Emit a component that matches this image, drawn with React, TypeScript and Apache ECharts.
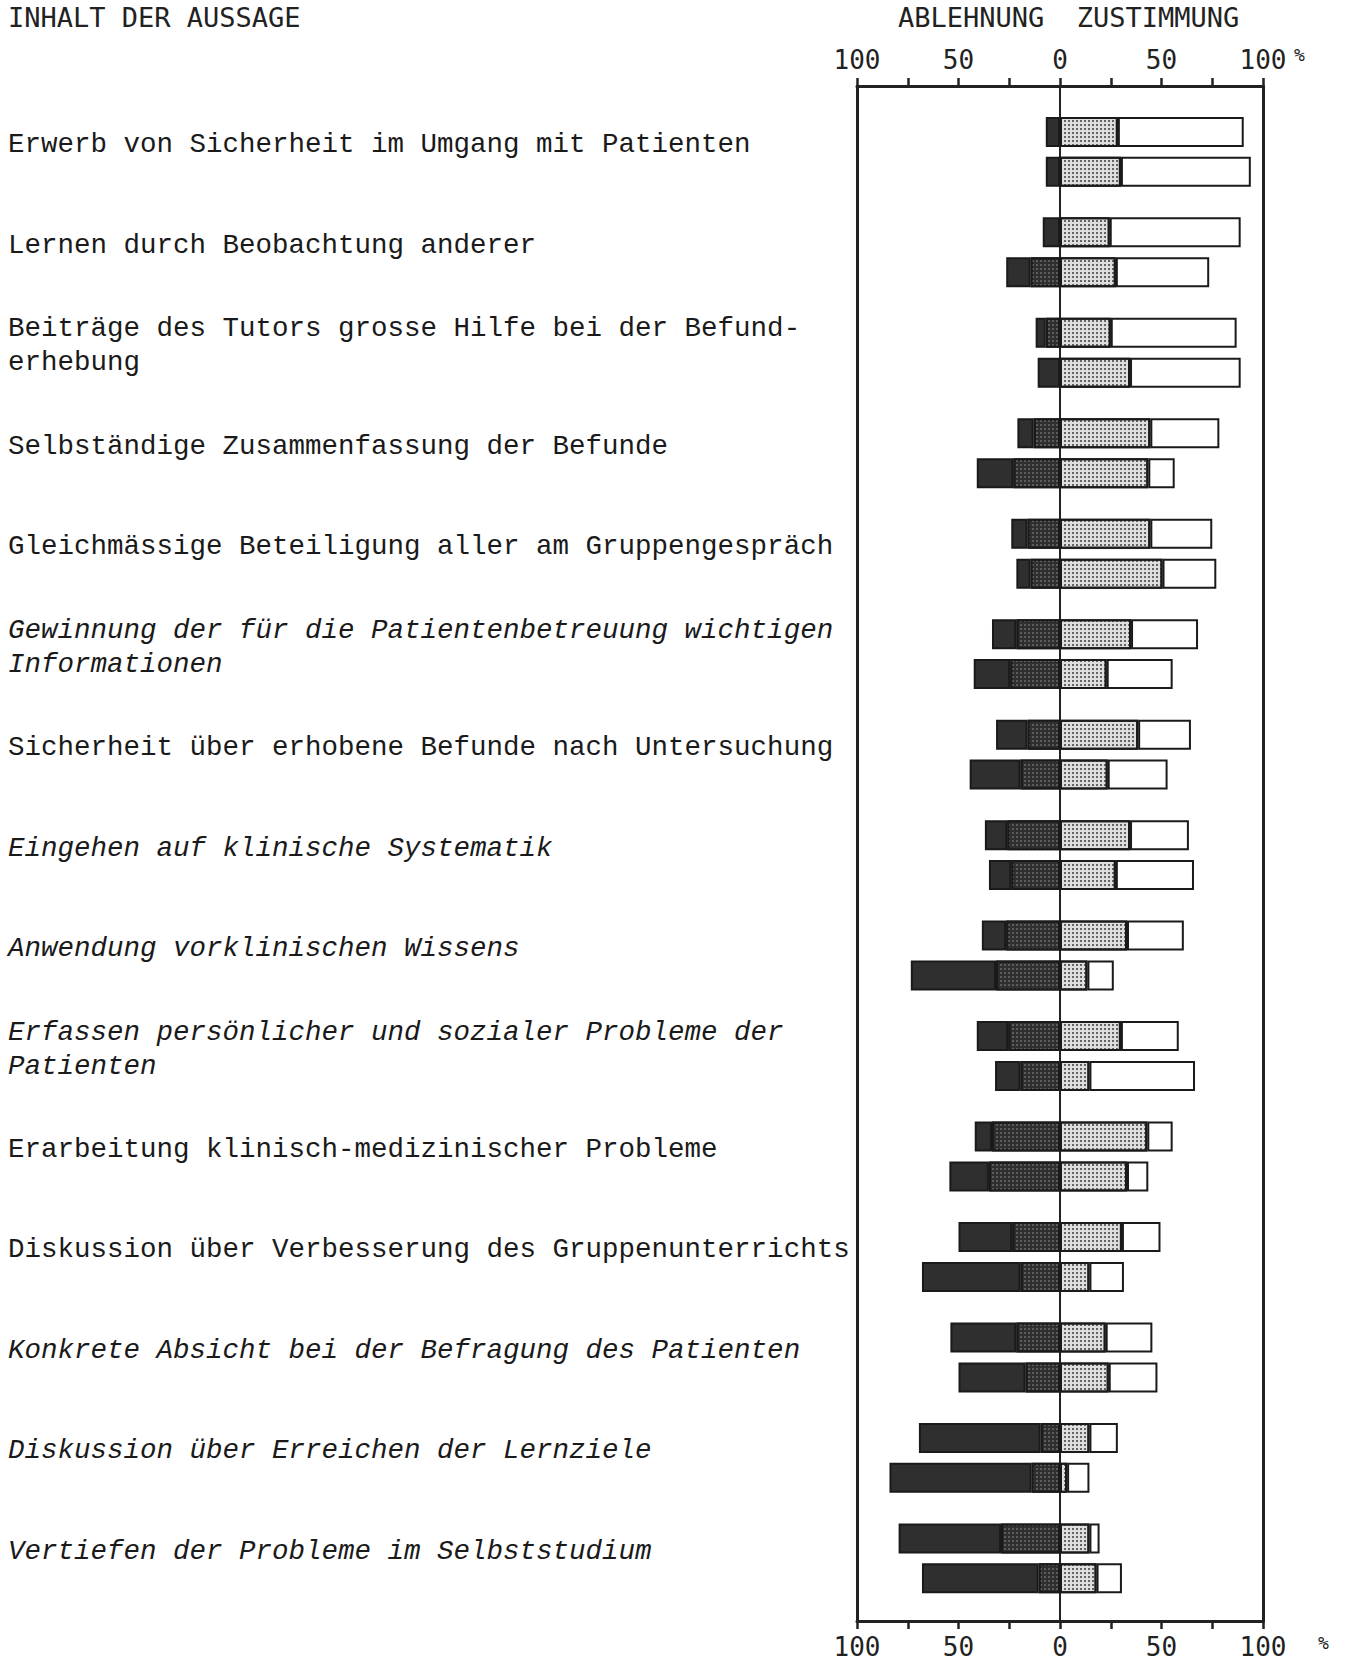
import React, { useEffect, useRef } from "react";
import * as echarts from "echarts";

// Statements (categories), top to bottom
const categories: string[] = [
  "Erwerb von Sicherheit im Umgang mit Patienten",
  "Lernen durch Beobachtung anderer",
  "Beiträge des Tutors grosse Hilfe bei der Befund-\nerhebung",
  "Selbständige Zusammenfassung der Befunde",
  "Gleichmässige Beteiligung aller am Gruppengespräch",
  "Gewinnung der für die Patientenbetreuung wichtigen\nInformationen",
  "Sicherheit über erhobene Befunde nach Untersuchung",
  "Eingehen auf klinische Systematik",
  "Anwendung vorklinischen Wissens",
  "Erfassen persönlicher und sozialer Probleme der\nPatienten",
  "Erarbeitung klinisch-medizinischer Probleme",
  "Diskussion über Verbesserung des Gruppenunterrichts",
  "Konkrete Absicht bei der Befragung des Patienten",
  "Diskussion über Erreichen der Lernziele",
  "Vertiefen der Probleme im Selbststudium",
];
const italicLabels: boolean[] = [false, false, false, false, false, true, false, true, true, true, false, false, true, true, true];

// Upper bar of each pair (%)
const strongRejectA = [7, 8.5, 5, 8, 8, 12, 15.5, 11, 12, 15.5, 8.5, 26.5, 32.5, 60, 50.5];
const mildRejectA = [0, 0, 7, 13, 16, 21.5, 16, 26, 26.5, 25.5, 33.5, 23.5, 21.5, 9.5, 29];
const mildAgreeA = [28.5, 24.5, 25, 44.5, 44.5, 35, 38.5, 34.5, 33, 30, 43, 30.5, 22.5, 14.5, 14.5];
const strongAgreeA = [62, 64.5, 62, 34, 30.5, 33, 26, 29, 28, 28.5, 12.5, 19, 23, 14, 5];

// Lower bar of each pair (%)
const strongRejectB = [7, 12, 11, 18, 7, 18, 25, 11, 42, 12.5, 19.5, 48.5, 33, 70, 57.5];
const mildRejectB = [0, 14.5, 0, 23, 14.5, 24.5, 19.5, 24, 31.5, 19.5, 35, 19.5, 17, 14, 10.5];
const mildAgreeB = [30, 27.5, 34.5, 43.5, 50.5, 23, 23.5, 27.5, 13.5, 14.5, 33, 14.5, 24, 3.5, 18];
const strongAgreeB = [64, 46, 54.5, 13, 26.5, 32.5, 29.5, 38.5, 13, 52, 10.5, 17, 24, 11, 12.5];

const axisMin = -100;
const axisMax = 100;
const axisInterval = 25;

const INK = "#222222";
const DARK = "#2f2f2f";

const darkDotted = {
  color: DARK,
  decal: {
    symbol: "circle",
    symbolSize: 0.7,
    color: "rgba(255,255,255,0.55)",
    dashArrayX: [2, 2],
    dashArrayY: [2, 2],
    rotation: 0,
  },
};
const lightDotted = {
  color: "#dedede",
  decal: {
    symbol: "circle",
    symbolSize: 0.85,
    color: "#2a2a2a",
    dashArrayX: [2, 2],
    dashArrayY: [2, 2],
    rotation: 0,
  },
};

function barSeries(name: string, stack: string, values: number[], negative: boolean, style: any) {
  return {
    name,
    type: "bar",
    stack,
    xAxisIndex: 2,
    yAxisIndex: 2,
    barWidth: 30,
    barGap: "33%",
    z: 3,
    data: values.map((v) => (negative ? -v : v)),
    itemStyle: { borderColor: "#1a1a1a", borderWidth: 2, ...style },
    emphasis: { disabled: true },
  };
}

export default function App() {
  const ref = useRef<HTMLDivElement>(null);

  useEffect(() => {
    if (!ref.current) return;
    const chart = echarts.init(ref.current, null, { renderer: "svg" });

    const tickFormatter = (v: number) => (v % 50 === 0 ? String(Math.abs(v)) : "");
    const frameX = (position: string) => ({
      gridIndex: 0,
      type: "value",
      position,
      min: axisMin,
      max: axisMax,
      interval: axisInterval,
      axisLine: { show: true, onZero: false, lineStyle: { color: INK, width: 3 } },
      axisTick: { show: true, length: 8, lineStyle: { color: INK, width: 2.5 } },
      axisLabel: {
        show: true,
        formatter: tickFormatter,
        margin: 13,
        fontSize: 26,
        fontFamily: "DejaVu Sans Mono",
        color: INK,
        showMinLabel: true,
        showMaxLabel: true,
      },
      splitLine: { show: false },
    });
    const frameY = (position: string) => ({
      gridIndex: 0,
      type: "value",
      position,
      min: 0,
      max: 1,
      axisLine: { show: true, onZero: false, lineStyle: { color: INK, width: 3 } },
      axisTick: { show: false },
      axisLabel: { show: false },
      splitLine: { show: false },
    });

    const option: any = {
      animation: false,
      backgroundColor: "#ffffff",
      textStyle: { fontFamily: "Liberation Mono" },
      grid: [
        { left: 857, top: 86, width: 406, height: 1535, outerBoundsMode: "none" },
        { left: 857, top: 101.6, width: 406, height: 1507, outerBoundsMode: "none" },
      ],
      xAxis: [
        frameX("top"),
        frameX("bottom"),
        { gridIndex: 1, type: "value", min: axisMin, max: axisMax, show: false },
      ],
      yAxis: [
        frameY("left"),
        frameY("right"),
        {
          gridIndex: 1,
          type: "category",
          inverse: true,
          data: categories,
          show: false,
        },
      ],
      series: [
        {
          name: "zero",
          type: "line",
          xAxisIndex: 0,
          yAxisIndex: 0,
          data: [
            [0, 0],
            [0, 1],
          ],
          symbol: "none",
          silent: true,
          z: 1,
          lineStyle: { color: INK, width: 2 },
        },
        barSeries("eher Ablehnung A", "a", mildRejectA, true, darkDotted),
        barSeries("starke Ablehnung A", "a", strongRejectA, true, { color: DARK, decal: "none" }),
        barSeries("Zustimmung A", "a", mildAgreeA, false, lightDotted),
        barSeries("starke Zustimmung A", "a", strongAgreeA, false, { color: "#ffffff", decal: "none" }),
        barSeries("eher Ablehnung B", "b", mildRejectB, true, darkDotted),
        barSeries("starke Ablehnung B", "b", strongRejectB, true, { color: DARK, decal: "none" }),
        barSeries("Zustimmung B", "b", mildAgreeB, false, lightDotted),
        barSeries("starke Zustimmung B", "b", strongAgreeB, false, { color: "#ffffff", decal: "none" }),
      ],
    };

    chart.setOption(option);

    // Statement labels, placed at the category positions given by the y axis scale
    const labelGraphics = categories.map((c, i) => {
      const yPix = chart.convertToPixel({ yAxisIndex: 2 } as any, i) as number;
      return {
        type: "text",
        x: 8,
        y: yPix - 7,
        silent: true,
        style: {
          text: c,
          fontSize: 27.5,
          fontFamily: "Liberation Mono",
          fontStyle: italicLabels[i] ? "italic" : "normal",
          fill: "#1a1a1a",
          lineHeight: 34,
          textVerticalAlign: "middle",
          verticalAlign: "middle",
          align: "left",
        },
      };
    });

    chart.setOption({
      graphic: [
        {
          type: "text",
          left: 8,
          top: 4,
          style: { text: "INHALT DER AUSSAGE", fontSize: 27, fontFamily: "DejaVu Sans Mono", fill: INK },
        },
        {
          type: "text",
          left: 898,
          top: 4,
          style: { text: "ABLEHNUNG  ZUSTIMMUNG", fontSize: 27, fontFamily: "DejaVu Sans Mono", fill: INK },
        },
        {
          type: "text",
          left: 1294,
          top: 45,
          style: { text: "%", fontSize: 18, fontFamily: "DejaVu Sans Mono", fill: INK },
        },
        {
          type: "text",
          left: 1318,
          top: 1633,
          style: { text: "%", fontSize: 18, fontFamily: "DejaVu Sans Mono", fill: INK },
        },
        ...labelGraphics,
      ],
    });

    return () => chart.dispose();
  }, []);

  return (
    <div
      ref={ref}
      style={{ position: "absolute", left: 0, top: 0, width: 1345, height: 1666, background: "#fff" }}
    />
  );
}
